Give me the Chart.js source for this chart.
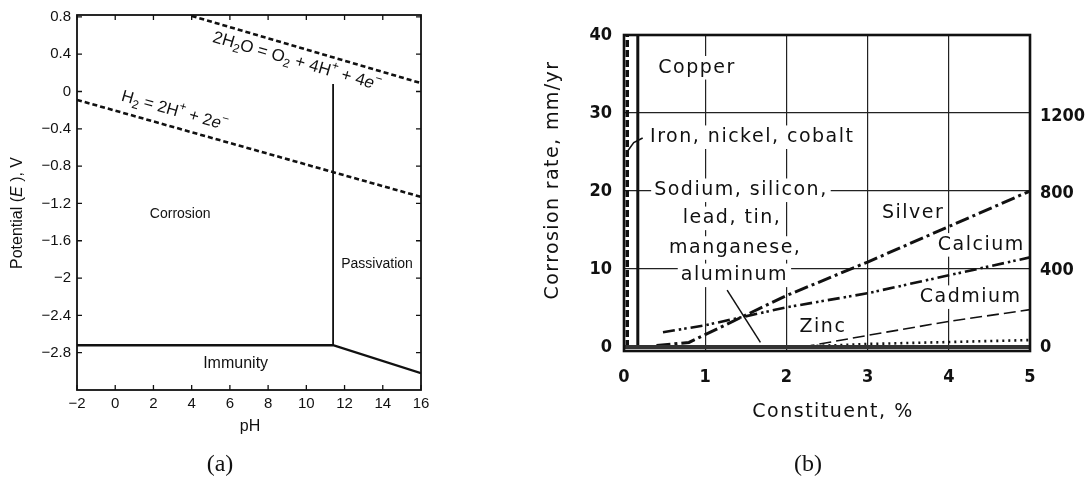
<!DOCTYPE html>
<html>
<head>
<meta charset="utf-8">
<title>Corrosion diagrams</title>
<script src="https://cdn.jsdelivr.net/npm/chart.js@4.4.1/dist/chart.umd.min.js"></script>
<style>
  body { margin: 0; background: #fff; width: 1085px; height: 486px; position: relative; overflow: hidden; }
  canvas { position: absolute; top: 0; }
  #pourbaix { left: 0; }
  #alloys { left: 520px; }
  .caption { position: absolute; top: 450px; width: 60px; margin-left: -30px; text-align: center;
             font: 24px "Liberation Serif", "Times New Roman", serif; line-height: 26px; color: #111; }
</style>
</head>
<body>
<canvas id="pourbaix" width="450" height="486"></canvas>
<canvas id="alloys" width="565" height="486"></canvas>
<div class="caption" style="left:220px">(a)</div>
<div class="caption" style="left:808px">(b)</div>
<script>
// (a) potential / pH diagram
const phTicks = [-2, 0, 2, 4, 6, 8, 10, 12, 14, 16];
const potentialTicks = [0.8, 0.4, 0, -0.4, -0.8, -1.2, -1.6, -2, -2.4, -2.8];

const oxygenPH = [4.0, 16];
const oxygenE = [0.81, 0.09];
const hydrogenPH = [-2, 16];
const hydrogenE = [-0.09, -1.13];
const passivePH = [11.4, 11.4];
const passiveE = [0.08, -2.72];
const immunePH = [-2, 11.4, 16];
const immuneE = [-2.72, -2.72, -3.02];

// (b) corrosion rate vs. alloying constituent
const constituentTicks = [0, 1, 2, 3, 4, 5];
const rateTicks = [0, 10, 20, 30, 40];
const mpyTicks = [0, 400, 800, 1200];

const copperPct = [0.17, 0.17];
const copperRate = [0, 40];
const ironPct = [0.04, 0.04];
const ironRate = [0, 40];
const silverPct = [0.4, 0.8, 2, 3, 5];
const silverRate = [0.2, 0.6, 6.6, 10.9, 20];
const calciumPct = [0.48, 1, 2, 3, 4, 5];
const calciumRate = [1.9, 2.8, 5.1, 6.9, 9.2, 11.5];
const cadmiumPct = [2.2, 3, 4, 5];
const cadmiumRate = [0, 1.5, 3.3, 4.8];
const zincPct = [2, 3, 5];
const zincRate = [0, 0.4, 0.9];
const sodiumPct = [0, 5];
const sodiumRate = [0, 0];

const pts = (xs, ys) => xs.map((x, i) => ({ x, y: ys[i] }));
const minus = v => String(v).replace('-', '\u2212');

const SANS = '"Liberation Sans", Arial, sans-serif';
const WIDE = '"DejaVu Sans", Verdana, sans-serif';
const NARROW = '"Liberation Sans Narrow", "DejaVu Sans Condensed", sans-serif';

// "_x" subscript, "^x" superscript, "*...*" italic
function richParts(src) {
  const parts = [];
  let italic = false;
  for (let i = 0; i < src.length; i++) {
    const c = src[i];
    if (c === '*') { italic = !italic; continue; }
    if (c === '_' || c === '^') {
      parts.push({ t: src[++i], shift: c === '_' ? 1 : -1, italic });
      continue;
    }
    const last = parts[parts.length - 1];
    if (last && !last.shift && last.italic === italic) last.t += c;
    else parts.push({ t: c, shift: 0, italic });
  }
  return parts;
}

function drawRich(ctx, note, x, y, angle) {
  const size = note.size;
  const parts = richParts(note.text);
  const fontFor = p => `${p.italic ? 'italic ' : ''}${note.weight || 'normal'} ` +
    `${p.shift ? Math.round(size * 0.72) : size}px ${note.family}`;
  ctx.save();
  ctx.letterSpacing = (note.spacing || 0) + 'px';
  let width = 0;
  parts.forEach(p => { ctx.font = fontFor(p); p.w = ctx.measureText(p.t).width; width += p.w; });
  ctx.translate(x, y);
  ctx.rotate(angle);
  if (note.bg) {
    ctx.fillStyle = '#fff';
    ctx.fillRect(-width / 2 - 3, -size * 0.62, width + 6, size * 1.24);
  }
  ctx.fillStyle = '#111';
  ctx.textBaseline = 'middle';
  ctx.textAlign = 'left';
  let cx = -width / 2;
  parts.forEach(p => {
    ctx.font = fontFor(p);
    const dy = p.shift > 0 ? size * 0.3 : p.shift < 0 ? -size * 0.38 : 0;
    ctx.fillText(p.t, cx, dy);
    cx += p.w;
  });
  ctx.restore();
}

// text placed either at data values (x, y) or at canvas pixels (px, py)
const notes = {
  id: 'notes',
  beforeDatasetsDraw(chart, args, opts) {
    const { ctx, scales } = chart;
    opts.items.forEach(n => {
      const x = n.px !== undefined ? n.px : scales.x.getPixelForValue(n.x);
      const y = n.py !== undefined ? n.py : scales.y.getPixelForValue(n.y);
      let angle = (n.rotate || 0) * Math.PI / 180;
      if (n.along) {
        const [a, b] = [n.along[0], n.along[n.along.length - 1]];
        angle = Math.atan2(scales.y.getPixelForValue(b.y) - scales.y.getPixelForValue(a.y),
                           scales.x.getPixelForValue(b.x) - scales.x.getPixelForValue(a.x));
      }
      drawRich(ctx, n, x, y, angle);
    });
  }
};

// plot frame, with optional inward ticks on all four sides
const frame = {
  id: 'frame',
  afterDatasetsDraw(chart, args, opts) {
    const { ctx, chartArea: a, scales } = chart;
    ctx.save();
    ctx.strokeStyle = '#111';
    ctx.lineWidth = opts.width;
    ctx.strokeRect(a.left, a.top, a.width, a.height);
    const L = opts.tickLength || 0;
    if (L) {
      ctx.lineWidth = 1.3;
      ctx.beginPath();
      scales.x.ticks.forEach(t => {
        const px = scales.x.getPixelForValue(t.value);
        ctx.moveTo(px, a.bottom); ctx.lineTo(px, a.bottom - L);
        ctx.moveTo(px, a.top); ctx.lineTo(px, a.top + L);
      });
      scales.y.ticks.forEach(t => {
        const py = scales.y.getPixelForValue(t.value);
        ctx.moveTo(a.left, py); ctx.lineTo(a.left + L, py);
        ctx.moveTo(a.right, py); ctx.lineTo(a.right - L, py);
      });
      ctx.stroke();
    }
    ctx.restore();
  }
};

const line = (data, width, dash, color) => ({
  data, borderColor: color || '#111', borderWidth: width, borderDash: dash || [],
  pointRadius: 0, tension: 0, fill: false
});

const oxygenLine = pts(oxygenPH, oxygenE);
const hydrogenLine = pts(hydrogenPH, hydrogenE);

new Chart(document.getElementById('pourbaix'), {
  type: 'line',
  data: {
    datasets: [
      line(oxygenLine, 2.6, [5, 3]),
      line(hydrogenLine, 2.6, [5, 3]),
      line(pts(passivePH, passiveE), 1.8),
      line(pts(immunePH, immuneE), 2.4)
    ]
  },
  options: {
    responsive: false,
    animation: false,
    events: [],
    layout: { padding: { top: 13, right: 29, left: 0, bottom: 0 } },
    scales: {
      x: {
        type: 'linear', min: -2, max: 16,
        afterBuildTicks: s => { s.ticks = phTicks.map(v => ({ value: v })); },
        afterFit: s => { s.height = 96; },
        ticks: { font: { family: SANS, size: 15 }, color: '#111', padding: 5, callback: minus, maxRotation: 0 },
        grid: { display: false, drawTicks: false },
        border: { display: false }
      },
      y: {
        type: 'linear', min: -3.2, max: 0.82,
        afterBuildTicks: s => { s.ticks = potentialTicks.map(v => ({ value: v })); },
        afterFit: s => { s.width = 77; },
        ticks: { font: { family: SANS, size: 15 }, color: '#111', padding: 6, callback: minus },
        grid: { display: false, drawTicks: false },
        border: { display: false }
      }
    },
    plugins: {
      legend: { display: false },
      tooltip: { enabled: false },
      frame: { width: 1.8, tickLength: 5 },
      notes: {
        items: [
          { text: '2H_2O = O_2 + 4H^+ + 4*e*^\u2212', x: 9.5, y: 0.32, along: oxygenLine, size: 17, family: SANS },
          { text: 'H_2 = 2H^+ + 2*e*^\u2212', x: 3.1, y: -0.21, along: hydrogenLine, size: 16.5, family: SANS },
          { text: 'Corrosion', x: 3.4, y: -1.32, size: 14, family: SANS },
          { text: 'Passivation', x: 13.7, y: -1.85, size: 14, family: SANS },
          { text: 'Immunity', x: 6.3, y: -2.92, size: 16, family: SANS },
          { text: 'Potential (*E* ), V', px: 18, py: 213, rotate: -90, size: 16, family: SANS },
          { text: 'pH', px: 250, py: 427, size: 16, family: SANS }
        ]
      }
    }
  },
  plugins: [notes, frame]
});

const bTicks = { font: { family: NARROW, size: 18, weight: 'bold' }, color: '#111', callback: v => String(v) };
const wideNote = (text, x, y) => ({ text, x, y, size: 19, family: WIDE, spacing: 1.5, bg: true });

new Chart(document.getElementById('alloys'), {
  type: 'line',
  data: {
    datasets: [
      line(pts(sodiumPct, sodiumRate), 4, [], '#333'),
      line(pts(ironPct, ironRate), 3.5, [7, 3]),
      line(pts(copperPct, copperRate), 3),
      line(pts(silverPct, silverRate), 3, [14, 4, 3, 4]),
      line(pts(calciumPct, calciumRate), 2.6, [12, 4, 2.5, 3, 2.5, 4]),
      line(pts(cadmiumPct, cadmiumRate), 1.6, [12, 5]),
      line(pts(zincPct, zincRate), 2.6, [2, 4]),
      // leader lines from the labels
      line([{ x: 1.27, y: 7.3 }, { x: 1.68, y: 0.6 }], 1.5),
      line([{ x: 0.23, y: 26.8 }, { x: 0.12, y: 26.2 }, { x: 0.05, y: 25.2 }], 1.5)
    ]
  },
  options: {
    responsive: false,
    animation: false,
    events: [],
    layout: { padding: { top: 35, right: 0, left: 0, bottom: 0 } },
    scales: {
      x: {
        type: 'linear', min: 0, max: 5,
        afterBuildTicks: s => { s.ticks = constituentTicks.map(v => ({ value: v })); },
        afterFit: s => { s.height = 135; },
        ticks: { ...bTicks, padding: 16, maxRotation: 0 },
        grid: { color: '#222', lineWidth: 1.2, drawTicks: false },
        border: { display: false }
      },
      y: {
        type: 'linear', min: -0.5, max: 40,
        afterBuildTicks: s => { s.ticks = rateTicks.map(v => ({ value: v })); },
        afterFit: s => { s.width = 104; },
        ticks: { ...bTicks, padding: 12 },
        grid: { color: ctx => (ctx.tick.value === 0 ? 'rgba(0,0,0,0)' : '#222'), lineWidth: 1.2, drawTicks: false },
        border: { display: false }
      },
      y2: {
        type: 'linear', position: 'right', min: -20, max: 1620,
        afterBuildTicks: s => { s.ticks = mpyTicks.map(v => ({ value: v })); },
        afterFit: s => { s.width = 55; },
        ticks: { ...bTicks, padding: 10 },
        grid: { display: false, drawTicks: false },
        border: { display: false }
      }
    },
    plugins: {
      legend: { display: false },
      tooltip: { enabled: false },
      frame: { width: 2.6 },
      notes: {
        items: [
          wideNote('Copper', 0.9, 35.8),
          wideNote('Iron, nickel, cobalt', 1.58, 26.9),
          wideNote('Sodium, silicon,', 1.44, 20.1),
          wideNote('lead, tin,', 1.33, 16.5),
          wideNote('manganese,', 1.37, 12.7),
          wideNote('aluminum', 1.36, 9.2),
          wideNote('Silver', 3.56, 17.2),
          wideNote('Calcium', 4.4, 13.1),
          wideNote('Cadmium', 4.27, 6.4),
          wideNote('Zinc', 2.45, 2.6),
          { text: 'Corrosion rate, mm/yr', px: 33, py: 180, rotate: -90, size: 19, family: WIDE, spacing: 1.4 },
          { text: 'Constituent, %', px: 313, py: 412, size: 19, family: WIDE, spacing: 1.5 }
        ]
      }
    }
  },
  plugins: [notes, frame]
});
</script>
</body>
</html>
